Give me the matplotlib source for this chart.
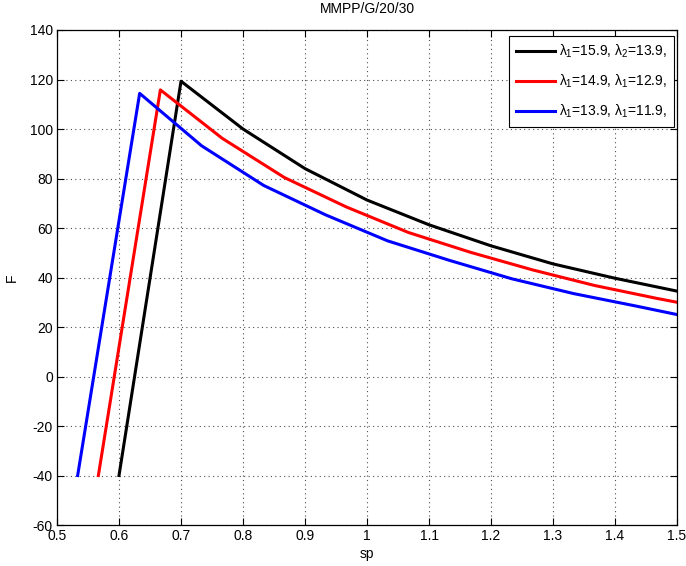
import matplotlib
matplotlib.use("Agg")
import matplotlib.pyplot as plt
import numpy as np

plt.rcParams['font.family'] = ['Liberation Sans', 'DejaVu Sans']
plt.rcParams['mathtext.fontset'] = 'custom'
plt.rcParams['mathtext.rm'] = 'Liberation Sans'
plt.rcParams['mathtext.it'] = 'Liberation Sans'
plt.rcParams['axes.unicode_minus'] = False

# three arrival-rate settings, sampled every 0.1 of sp
sp_black = [0.6, 0.7, 0.8, 0.9, 1.0, 1.1, 1.2, 1.3, 1.4, 1.5]
F_black = [-40, 119.3, 100, 84, 71.3, 61.3, 52.8, 45.5, 39.7, 34.5]

sp_red = [0.5667, 0.6667, 0.7667, 0.8667, 0.9667, 1.0667, 1.1667, 1.2667, 1.3667, 1.4667, 1.5667]
F_red = [-40, 115.8, 96.2, 80.4, 68.5, 58.2, 50.2, 43.1, 36.8, 31.6, 26.8]

sp_blue = [0.5333, 0.6333, 0.7333, 0.8333, 0.9333, 1.0333, 1.1333, 1.2333, 1.3333, 1.4333, 1.5333]
F_blue = [-40, 114.4, 93.2, 77.2, 65.3, 54.8, 46.9, 39.5, 33.5, 28.5, 23.3]

labels = [r'$\lambda_1$=15.9, $\lambda_2$=13.9,',
          r'$\lambda_1$=14.9, $\lambda_1$=12.9,',
          r'$\lambda_1$=13.9, $\lambda_1$=11.9,']

xticks = np.round(np.arange(0.5, 1.51, 0.1), 1)
yticks = np.arange(-60, 141, 20)

fig = plt.figure(figsize=(6.86, 5.66), dpi=100)
ax = fig.add_axes([0.0831, 0.0724, 0.9038, 0.8746])

ax.plot(sp_black, F_black, color='black', lw=2.2, label=labels[0])
ax.plot(sp_red, F_red, color='red', lw=2.2, label=labels[1])
ax.plot(sp_blue, F_blue, color='blue', lw=2.2, label=labels[2])

ax.set_xlim(0.5, 1.5)
ax.set_ylim(-60, 140)
ax.set_xticks(xticks)
ax.set_xticklabels([f'{v:g}' for v in xticks])
ax.set_yticks(yticks)
ax.tick_params(direction='in', length=5, width=0.8, labelsize=10,
               top=True, right=True, colors='black', pad=3)
ax.grid(True, linestyle=(0, (1, 3)), color='0.3', lw=0.8)
for s in ax.spines.values():
    s.set_linewidth(0.9)

ax.set_title('MMPP/G/20/30', fontsize=10, pad=12)
ax.set_xlabel('sp', fontsize=10, labelpad=3)
ax.set_ylabel('F', fontsize=10)
ax.yaxis.set_label_coords(-0.062, 0.5)

leg = ax.legend(loc='upper right', bbox_to_anchor=(0.995, 0.988), fontsize=10,
                handlelength=2.8, handletextpad=0.3, borderpad=0.5,
                labelspacing=0.9, fancybox=False, framealpha=1,
                edgecolor='black', borderaxespad=0)
leg.get_frame().set_linewidth(0.8)

fig.savefig('out.png', dpi=100)
